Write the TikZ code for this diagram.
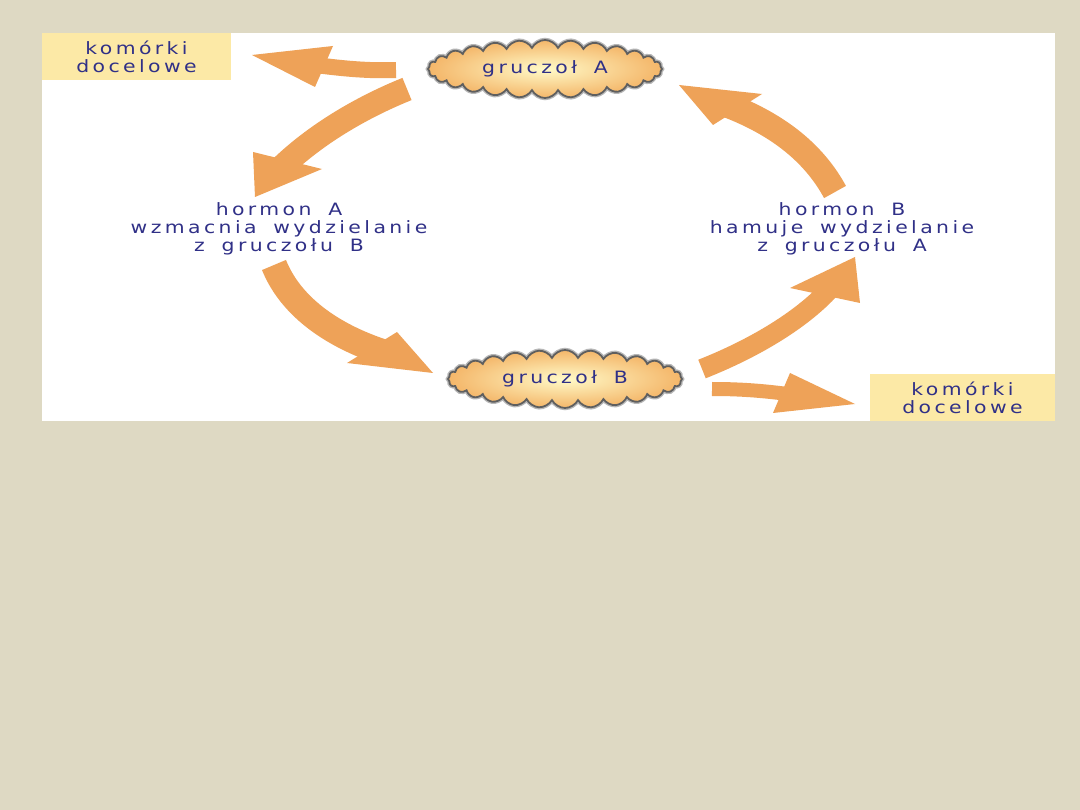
\documentclass[tikz,border=0pt]{standalone}
\usepackage{fontspec}
\newfontfamily\lblfont[LetterSpace=20,FakeStretch=1.2,WordSpace=1.7]{DejaVu Sans}
\usetikzlibrary{shapes.symbols,calc}
\definecolor{bg}{RGB}{222,217,195}
\definecolor{boxy}{RGB}{252,233,166}
\definecolor{arr}{RGB}{238,162,88}
\definecolor{txt}{RGB}{48,48,135}
\definecolor{cloudin}{RGB}{255,250,200}
\definecolor{cloudout}{RGB}{244,182,105}
\definecolor{cloudline}{RGB}{95,95,95}
\begin{document}
\begin{tikzpicture}[x=1pt,y=-1pt,
  lbl/.style={text=txt,font=\lblfont\fontsize{17}{18}\selectfont,align=center,inner sep=0pt},
  targetbox/.style={lbl,fill=boxy,draw=none},
  gland/.style={lbl,cloud,cloud puffs=28,cloud puff arc=125,aspect=4,draw=cloudline,line width=1.8pt,inner color=cloudin,outer color=cloudout,minimum width=234pt,minimum height=58pt,preaction={draw=cloudline!45,line width=4.5pt}},
  shaft/.style={draw=arr,line width=#1},
  head/.style={fill=arr},
]
\useasboundingbox (0,0) rectangle (1080,810);
\fill[bg] (0,0) rectangle (1080,810);
\fill[white] (42,33) rectangle (1055,421);

\node[targetbox,minimum width=189pt,minimum height=47pt] (tl) at (136.5,56.5) {komórki\\docelowe};
\node[targetbox,minimum width=185pt,minimum height=47pt] (br) at (962.5,397.5) {komórki\\docelowe};
\node[gland] (ga) at (545,69) {gruczoł A};
\node[gland] (gb) at (565,379) {gruczoł B};
\node[lbl] (ha) at (279,229) {hormon A\\wzmacnia wydzielanie\\z gruczołu B};
\node[lbl] (hb) at (842,229) {hormon B\\hamuje wydzielanie\\z gruczołu A};

% arrow 1: gruczol A -> komorki (top left)
\coordinate (a1s) at (396,70);
\coordinate (a1t) at (252,55); \coordinate (a1b) at (333,46); \coordinate (a1c) at (315,87);
% arrow 2: gruczol A -> hormon A
\coordinate (a2s) at (407,89);
\coordinate (a2t) at (255,197); \coordinate (a2b) at (253,152); \coordinate (a2c) at (322,169);
% arrow 3: hormon A -> gruczol B
\coordinate (a3s) at (274,265);
\coordinate (a3t) at (433,373); \coordinate (a3b) at (347,363); \coordinate (a3c) at (397,332);
% arrow 4: gruczol B -> hormon B
\coordinate (a4s) at (702,369);
\coordinate (a4t) at (855,257); \coordinate (a4b) at (790,288); \coordinate (a4c) at (860,303);
% arrow 5: hormon B -> gruczol A
\coordinate (a5s) at (835,192);
\coordinate (a5t) at (679,85); \coordinate (a5b) at (762,94); \coordinate (a5c) at (713,125);
% arrow 6: gruczol B -> komorki (bottom right)
\coordinate (a6s) at (712,389);
\coordinate (a6t) at (855,404); \coordinate (a6b) at (790,373); \coordinate (a6c) at (773,413);

\foreach \i in {1,...,6}{
  \coordinate (a\i m) at ($(a\i b)!0.5!(a\i c)$);
  \coordinate (a\i e) at ($(a\i m)!0.2!(a\i t)$);
}

\draw[shaft=16pt] (a1s) .. controls (370,71) and (345,69) .. (a1e);
\fill[head] (a1b) -- (a1t) -- (a1c) -- cycle;
\draw[shaft=24pt] (a2s) .. controls (360,108) and (315,135) .. (a2e);
\fill[head] (a2b) -- (a2t) -- (a2c) -- cycle;
\draw[shaft=26pt] (a3s) .. controls (290,305) and (330,335) .. (a3e);
\fill[head] (a3b) -- (a3t) -- (a3c) -- cycle;
\draw[shaft=20pt] (a4s) .. controls (750,350) and (800,322) .. (a4e);
\fill[head] (a4b) -- (a4t) -- (a4c) -- cycle;
\draw[shaft=25pt] (a5s) .. controls (815,155) and (780,125) .. (a5e);
\fill[head] (a5b) -- (a5t) -- (a5c) -- cycle;
\draw[shaft=14pt] (a6s) .. controls (735,389) and (760,390) .. (a6e);
\fill[head] (a6b) -- (a6t) -- (a6c) -- cycle;
\end{tikzpicture}
\end{document}
